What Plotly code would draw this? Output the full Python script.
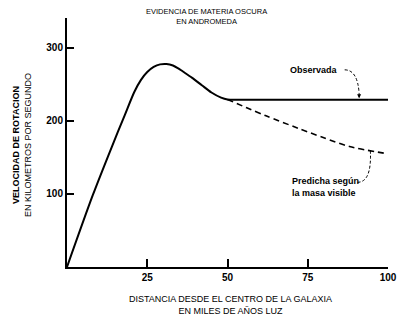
import plotly.graph_objects as go

# Rotation curve of Andromeda (km/s vs thousands of light years)
obs_x = [0, 8, 14, 18, 21, 23, 25, 27, 29, 31, 33, 34.5, 36, 39, 42, 45, 48, 50, 53, 100]
obs_y = [0, 98, 165, 208, 240, 256, 267, 274, 277.5, 278, 276, 272.5, 268, 259, 249, 239, 232, 229.5, 229, 229]

pred_x = [50, 56, 62, 72, 80, 88, 100]
pred_y = [229.5, 218, 207, 190, 177, 165, 155]

x_ticks = [25, 50, 75, 100]
x_tick_text = ["25", "50", "75", "100"]
y_ticks = [100, 200, 300]
y_tick_text = ["100", "200", "300"]

FONT = "Liberation Sans Narrow, Arial Narrow, Liberation Sans, Arial, sans-serif"

fig = go.Figure()
fig.add_trace(go.Scatter(
    x=obs_x, y=obs_y, mode="lines",
    line=dict(color="black", width=2, shape="spline", smoothing=0.8),
    hoverinfo="skip", showlegend=False,
))
fig.add_trace(go.Scatter(
    x=pred_x, y=pred_y, mode="lines",
    line=dict(color="black", width=1.6, dash="6px,4px", shape="spline", smoothing=0.8),
    hoverinfo="skip", showlegend=False,
))

fig.update_layout(
    width=400, height=322,
    margin=dict(l=67, r=12, t=18, b=55),
    paper_bgcolor="white", plot_bgcolor="white",
    font=dict(family=FONT, color="black", size=9),
    xaxis=dict(
        range=[0, 100], showgrid=False, zeroline=False, automargin=False,
        showline=True, linecolor="black", linewidth=2,
        ticks="inside", ticklen=8, tickwidth=1.5, tickcolor="black",
        tickvals=x_ticks, ticktext=["<b>%s</b>" % t for t in x_tick_text],
        tickfont=dict(family=FONT, size=10, color="black"),
    ),
    yaxis=dict(
        range=[0, 341], showgrid=False, zeroline=False, automargin=False,
        showline=True, linecolor="black", linewidth=2,
        ticks="inside", ticklen=7, tickwidth=1.5, tickcolor="black",
        tickvals=y_ticks, ticktext=["<b>%s</b>" % t for t in y_tick_text],
        tickfont=dict(family=FONT, size=10, color="black"),
    ),
)

# Two-line heading
fig.add_annotation(x=0.436, y=1.008, xref="paper", yref="paper",
                   text="EVIDENCIA DE MATERIA OSCURA<br>EN ANDROMEDA",
                   showarrow=False, xanchor="center", yanchor="middle",
                   font=dict(family=FONT, size=7.5, color="black"))

# Axis titles
fig.add_annotation(x=0.508, y=-0.153, xref="paper", yref="paper",
                   text="DISTANCIA DESDE EL CENTRO DE LA GALAXIA<br>EN MILES DE AÑOS LUZ",
                   showarrow=False, xanchor="center", yanchor="middle",
                   font=dict(family=FONT, size=9, color="black"))
fig.add_annotation(x=-0.14, y=0.49, xref="paper", yref="paper",
                   text="<b>VELOCIDAD DE ROTACION</b><br>EN KILOMETROS POR SEGUNDO",
                   showarrow=False, xanchor="center", yanchor="middle", textangle=-90,
                   font=dict(family=FONT, size=9, color="black"))

# Callout labels
fig.add_annotation(x=85, y=270, xref="x", yref="y", text="<b>Observada</b>",
                   showarrow=False, xanchor="right",
                   font=dict(family=FONT, size=9, color="black"))
fig.add_annotation(x=69.5, y=110, xref="x", yref="y",
                   text="<b>Predicha según<br>la masa visible</b>",
                   showarrow=False, xanchor="left", yanchor="middle", align="left",
                   font=dict(family=FONT, size=9, color="black"))

# Leader lines
fig.add_shape(type="path", xref="x", yref="y",
              path="M 86.5,270 Q 90.5,270 91,238",
              line=dict(color="black", width=1, dash="3px,2px"))
fig.add_annotation(x=91, y=231, ax=91, ay=240, xref="x", yref="y",
                   axref="x", ayref="y", text="", showarrow=True,
                   arrowhead=2, arrowsize=0.8, arrowwidth=1, arrowcolor="black")
fig.add_shape(type="path", xref="x", yref="y",
              path="M 90.5,116 Q 95,116 94.5,160",
              line=dict(color="black", width=1, dash="3px,2px"))

fig.write_html("out.html")
